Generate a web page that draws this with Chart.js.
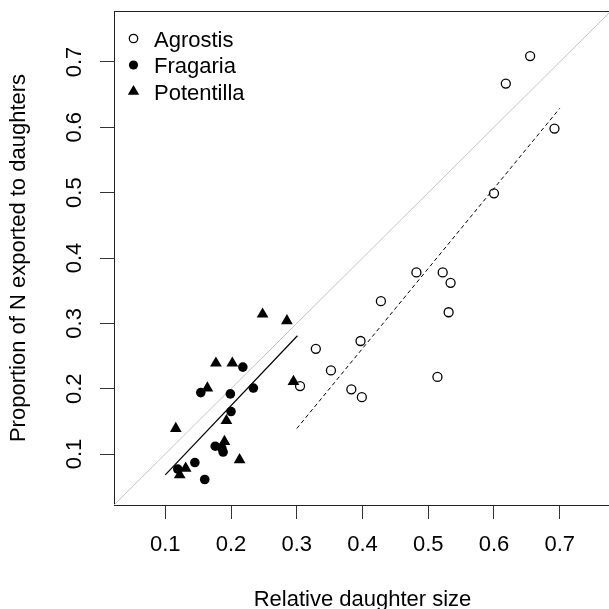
<!DOCTYPE html>
<html>
<head>
<meta charset="utf-8">
<script src="https://cdn.jsdelivr.net/npm/chart.js@4.4.1/dist/chart.umd.min.js"></script>
<style>
  html, body { margin: 0; padding: 0; background: #fff; overflow: hidden; }
  #wrap { width: 620px; height: 620px; }
</style>
</head>
<body>
<div id="wrap"><canvas id="chart" width="620" height="620"></canvas></div>
<script>
// values
const agrostisX = [0.655, 0.618, 0.692, 0.600, 0.482, 0.522, 0.534, 0.428, 0.531, 0.397, 0.329, 0.352, 0.305, 0.514, 0.383, 0.399];
const agrostisY = [0.709, 0.667, 0.598, 0.499, 0.378, 0.378, 0.362, 0.334, 0.317, 0.273, 0.261, 0.228, 0.204, 0.218, 0.199, 0.187];

const fragariaX = [0.218, 0.234, 0.154, 0.199, 0.200, 0.176, 0.186, 0.188, 0.145, 0.119, 0.160];
const fragariaY = [0.233, 0.201, 0.194, 0.192, 0.165, 0.112, 0.109, 0.103, 0.087, 0.077, 0.061];

const potentillaX = [0.248, 0.285, 0.177, 0.202, 0.295, 0.164, 0.193, 0.116, 0.190, 0.213, 0.131, 0.122];
const potentillaY = [0.314, 0.304, 0.239, 0.239, 0.211, 0.201, 0.151, 0.139, 0.119, 0.091, 0.078, 0.068];

// fitted lines (end points) and the 1:1 line
const solidFitX = [0.1, 0.301];
const solidFitY = [0.068, 0.281];
const dashedFitX = [0.3, 0.7];
const dashedFitY = [0.139, 0.629];
const oneToOneX = [0, 1];
const oneToOneY = [0, 1];

const seriesNames = ["Agrostis", "Fragaria", "Potentilla"];
const xTicks = [0.1, 0.2, 0.3, 0.4, 0.5, 0.6, 0.7];
const xTickLabels = ["0.1", "0.2", "0.3", "0.4", "0.5", "0.6", "0.7"];
const yTicks = [0.1, 0.2, 0.3, 0.4, 0.5, 0.6, 0.7];
const yTickLabels = ["0.1", "0.2", "0.3", "0.4", "0.5", "0.6", "0.7"];
const axisMin = 0.022;
const axisMax = 0.778;

const FONT = '"Liberation Sans", Arial, sans-serif';

function pts(xs, ys) {
  return xs.map((x, i) => ({ x: x, y: ys[i] }));
}

// box top, rotated y labels and the legend
const framePlugin = {
  id: "frame",
  afterDraw(chart) {
    const ctx = chart.ctx;
    const area = chart.chartArea;
    const yScale = chart.scales.y;
    ctx.save();

    ctx.strokeStyle = "#222";
    ctx.lineWidth = 1;
    ctx.beginPath();
    ctx.moveTo(area.left, Math.round(area.top) + 0.5);
    ctx.lineTo(area.right, Math.round(area.top) + 0.5);
    ctx.stroke();

    ctx.font = "22px " + FONT;
    ctx.fillStyle = "#000";
    ctx.textAlign = "center";
    ctx.textBaseline = "alphabetic";
    yTicks.forEach((v, i) => {
      ctx.save();
      ctx.translate(81, yScale.getPixelForValue(v));
      ctx.rotate(-Math.PI / 2);
      ctx.fillText(yTickLabels[i], 0, 0);
      ctx.restore();
    });

    // legend
    const lx = 133.5;
    const baselines = [46.5, 73, 99.5];
    ctx.textAlign = "left";
    seriesNames.forEach((name, i) => {
      const cy = baselines[i] - 8;
      ctx.beginPath();
      if (i === 0) {
        ctx.arc(lx, cy, 4.2, 0, Math.PI * 2);
        ctx.lineWidth = 1.3;
        ctx.strokeStyle = "#000";
        ctx.stroke();
      } else if (i === 1) {
        ctx.arc(lx, cy, 4.6, 0, Math.PI * 2);
        ctx.fill();
      } else {
        const r = 6.6;
        ctx.moveTo(lx, cy - r);
        ctx.lineTo(lx + r * 0.866, cy + r / 2);
        ctx.lineTo(lx - r * 0.866, cy + r / 2);
        ctx.closePath();
        ctx.fill();
      }
      ctx.fillText(name, 154, baselines[i]);
    });

    ctx.restore();
  }
};

const fontSpec = { family: FONT, size: 22 };

new Chart(document.getElementById("chart"), {
  type: "scatter",
  data: {
    datasets: [
      {
        label: seriesNames[0],
        data: pts(agrostisX, agrostisY),
        pointStyle: "circle",
        pointRadius: 4.5,
        borderWidth: 1.3,
        borderColor: "#000",
        backgroundColor: "rgba(0,0,0,0)"
      },
      {
        label: seriesNames[1],
        data: pts(fragariaX, fragariaY),
        pointStyle: "circle",
        pointRadius: 4.8,
        borderWidth: 0,
        backgroundColor: "#000"
      },
      {
        label: seriesNames[2],
        data: pts(potentillaX, potentillaY),
        pointStyle: "triangle",
        pointRadius: 6.8,
        borderWidth: 0,
        backgroundColor: "#000"
      },
      {
        label: "fit (Fragaria + Potentilla)",
        data: pts(solidFitX, solidFitY),
        showLine: true,
        pointRadius: 0,
        borderWidth: 1.2,
        borderColor: "#000"
      },
      {
        label: "fit (Agrostis)",
        data: pts(dashedFitX, dashedFitY),
        showLine: true,
        pointRadius: 0,
        borderWidth: 1,
        borderDash: [4, 3],
        borderColor: "#000"
      },
      {
        label: "1:1",
        data: pts(oneToOneX, oneToOneY),
        showLine: true,
        pointRadius: 0,
        borderWidth: 1,
        borderColor: "#c4c4c4"
      }
    ]
  },
  options: {
    responsive: false,
    animation: false,
    devicePixelRatio: 1,
    events: [],
    layout: { padding: { left: 0, top: 11, right: 9, bottom: 0 } },
    plugins: {
      legend: { display: false },
      tooltip: { enabled: false }
    },
    scales: {
      x: {
        type: "linear",
        min: axisMin,
        max: axisMax,
        afterBuildTicks: (s) => { s.ticks = xTicks.map((v) => ({ value: v })); },
        afterFit: (s) => { s.height = 115; },
        grid: { drawOnChartArea: false, tickLength: 14, color: "#333", lineWidth: 1 },
        border: { color: "#222", width: 1 },
        ticks: {
          padding: 13,
          maxRotation: 0,
          color: "#000",
          font: fontSpec,
          callback: (v, i) => xTickLabels[i]
        },
        title: {
          display: true,
          text: "Relative daughter size",
          color: "#000",
          font: fontSpec,
          padding: { top: 0, bottom: 7 }
        }
      },
      y: {
        type: "linear",
        min: axisMin,
        max: axisMax,
        afterBuildTicks: (s) => { s.ticks = yTicks.map((v) => ({ value: v })); },
        afterFit: (s) => { s.width = 114; },
        grid: { drawOnChartArea: false, tickLength: 14, color: "#333", lineWidth: 1 },
        border: { color: "#222", width: 1 },
        ticks: { display: false },
        title: {
          display: true,
          text: "Proportion of N exported to daughters",
          color: "#000",
          font: fontSpec,
          padding: { top: 6, bottom: 0 }
        }
      }
    }
  },
  plugins: [framePlugin]
});
</script>
</body>
</html>
